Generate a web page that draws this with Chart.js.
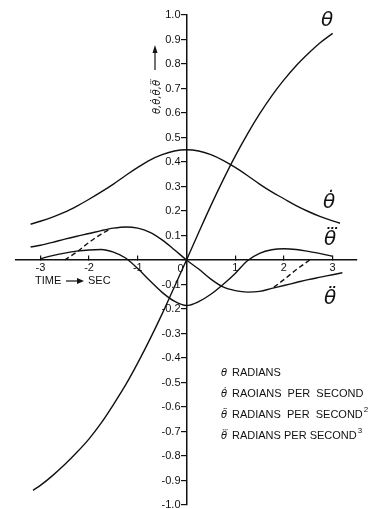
<!DOCTYPE html>
<html>
<head>
<meta charset="utf-8">
<script src="https://cdn.jsdelivr.net/npm/chart.js@4.4.0/dist/chart.umd.min.js"></script>
<style>
  html, body { margin: 0; padding: 0; background: #fff; }
  #wrap { width: 374px; height: 509px; }
</style>
</head>
<body>
<div id="wrap"><canvas id="motion"></canvas></div>
<script>
// angle and its derivatives against time (sec)
const thetaT = [-3.15,-3,-2.75,-2.5,-2.25,-2,-1.75,-1.5,-1.25,-1,-0.75,-0.5,-0.25,0,0.25,0.5,0.75,1,1.25,1.5,1.75,2,2.25,2.5,2.75,3];
const theta  = [-0.94,-0.92,-0.88,-0.835,-0.785,-0.73,-0.665,-0.59,-0.51,-0.42,-0.323,-0.22,-0.11,0,0.112,0.222,0.326,0.424,0.514,0.596,0.67,0.735,0.793,0.843,0.888,0.925];

const dotT     = [-3.2,-3,-2.75,-2.5,-2.25,-2,-1.75,-1.5,-1.25,-1,-0.75,-0.5,-0.25,0,0.25,0.5,0.75,1,1.25,1.5,1.75,2,2.25,2.5,2.75,3,3.15];
const thetaDot = [0.146,0.158,0.175,0.195,0.22,0.248,0.278,0.31,0.345,0.378,0.408,0.43,0.445,0.45,0.445,0.43,0.407,0.378,0.345,0.31,0.278,0.25,0.222,0.198,0.177,0.16,0.15];

const ddotT     = [-3.2,-3,-2.75,-2.5,-2.25,-2,-1.75,-1.5,-1.25,-1,-0.75,-0.5,-0.25,0,0.25,0.5,0.75,1,1.25,1.5,1.75,2,2.25,2.5,2.75,3,3.2];
const thetaDdot = [0.053,0.06,0.072,0.085,0.097,0.108,0.12,0.13,0.135,0.13,0.113,0.082,0.042,0,-0.037,-0.078,-0.11,-0.125,-0.131,-0.128,-0.116,-0.104,-0.092,-0.08,-0.07,-0.06,-0.052];

const tdotT     = [-3,-2.75,-2.5,-2.25,-2,-1.75,-1.5,-1.25,-1,-0.75,-0.5,-0.25,0,0.25,0.5,0.75,1,1.25,1.5,1.75,2,2.25,2.5,2.75,3];
const thetaTdot = [0.005,0.018,0.028,0.036,0.041,0.043,0.032,0.008,-0.035,-0.085,-0.132,-0.168,-0.186,-0.17,-0.14,-0.1,-0.055,-0.003,0.027,0.042,0.046,0.043,0.035,0.026,0.015];

// dashed branches
const dashLeftT  = [-2.5,-2.25,-2,-1.75,-1.55];
const dashLeft   = [0,0.033,0.072,0.106,0.128];
const dashRightT = [2.53,2.25,2,1.78];
const dashRight  = [0,-0.04,-0.08,-0.113];

const xTicks = [-3,-2,-1,0,1,2,3];
const yTicks = [-1,-0.9,-0.8,-0.7,-0.6,-0.5,-0.4,-0.3,-0.2,-0.1,0,0.1,0.2,0.3,0.4,0.5,0.6,0.7,0.8,0.9,1];

const legendRows = [
  ['\u03B8', 'RADIANS', ''],
  ['\u03B8\u0307', 'RAOIANS  PER  SECOND', ''],
  ['\u03B8\u0308', 'RADIANS  PER  SECOND', '2'],
  ['\u03B8\u20DB', 'RADIANS PER SECOND', '3']
];

const ink = '#111';
const face = '"Liberation Sans", Arial, sans-serif';
const greek = '"DejaVu Sans", sans-serif';

function pts(ts, vs) {
  return ts.map((t, i) => ({ x: t, y: vs[i] }));
}

function curve(ts, vs, dashed) {
  return {
    data: pts(ts, vs),
    showLine: true,
    borderColor: ink,
    borderWidth: 1.4,
    borderDash: dashed ? [5, 3] : [],
    pointRadius: 0,
    cubicInterpolationMode: 'monotone'
  };
}

const notes = {
  id: 'notes',
  afterDraw(chart) {
    const ctx = chart.ctx;
    const xs = chart.scales.x, ys = chart.scales.y;
    const ox = xs.getPixelForValue(0), oy = ys.getPixelForValue(0);
    ctx.save();
    ctx.fillStyle = ink;
    ctx.strokeStyle = ink;

    // value labels left of the vertical axis
    ctx.font = '11px ' + face;
    ctx.textAlign = 'right';
    ctx.textBaseline = 'middle';
    yTicks.forEach(v => {
      if (v === 0) return;
      ctx.fillText(v.toFixed(1), ox - 6, ys.getPixelForValue(v));
    });

    // zero shared by both axes
    ctx.fillText('0', ox - 3, oy + 9);

    // time axis caption
    ctx.textAlign = 'left';
    ctx.fillText('TIME', 35, 281);
    ctx.fillText('SEC', 88, 281);
    ctx.lineWidth = 1.2;
    ctx.beginPath();
    ctx.moveTo(66, 281); ctx.lineTo(79, 281); ctx.stroke();
    ctx.beginPath();
    ctx.moveTo(84, 281); ctx.lineTo(77, 278); ctx.lineTo(77, 284); ctx.closePath(); ctx.fill();

    // vertical caption and arrow
    ctx.save();
    ctx.translate(157, 97);
    ctx.rotate(-Math.PI / 2);
    ctx.textAlign = 'center';
    ctx.font = 'italic 10px ' + greek;
    ctx.fillText('\u03B8,\u03B8\u0307,\u03B8\u0308,\u03B8\u20DB', 0, 0);
    ctx.restore();
    ctx.beginPath();
    ctx.moveTo(155, 70); ctx.lineTo(155, 52); ctx.stroke();
    ctx.beginPath();
    ctx.moveTo(155, 45); ctx.lineTo(152.5, 53); ctx.lineTo(157.5, 53); ctx.closePath(); ctx.fill();

    // curve names
    ctx.font = 'italic 20px ' + greek;
    ctx.textAlign = 'center';
    ctx.fillText('\u03B8', 327, 21);
    ctx.fillText('\u03B8\u0307', 329, 203);
    ctx.fillText('\u03B8\u20DB', 330, 240);
    ctx.fillText('\u03B8\u0308', 330, 299);

    // key
    legendRows.forEach((row, i) => {
      const y = 373 + i * 21;
      ctx.textAlign = 'left';
      ctx.font = 'italic 10px ' + greek;
      ctx.fillText(row[0], 221, y);
      ctx.font = '11px ' + face;
      ctx.fillText(row[1], 232, y);
      if (row[2]) {
        const w = ctx.measureText(row[1]).width;
        ctx.font = '8px ' + face;
        ctx.fillText(row[2], 233 + w, y - 5);
      }
    });
    ctx.restore();
  }
};

new Chart(document.getElementById('motion'), {
  type: 'scatter',
  data: {
    datasets: [
      curve(thetaT, theta),
      curve(dotT, thetaDot),
      curve(ddotT, thetaDdot),
      curve(tdotT, thetaTdot),
      curve(dashLeftT, dashLeft, true),
      curve(dashRightT, dashRight, true)
    ]
  },
  options: {
    responsive: true,
    maintainAspectRatio: false,
    animation: false,
    layout: { padding: { top: 15, bottom: 4, left: 16, right: 17 } },
    plugins: { legend: { display: false }, tooltip: { enabled: false } },
    scales: {
      x: {
        type: 'linear',
        min: -3.5,
        max: 3.5,
        position: { y: 0 },
        afterBuildTicks: s => { s.ticks = xTicks.map(v => ({ value: v })); },
        grid: { drawOnChartArea: false, tickLength: -5, color: ink, lineWidth: 1.2 },
        border: { color: ink, width: 1.5 },
        ticks: {
          color: ink,
          padding: 6,
          maxRotation: 0,
          autoSkip: false,
          font: { family: face, size: 11 },
          callback: v => (v === 0 ? '' : String(v))
        }
      },
      y: {
        type: 'linear',
        min: -1,
        max: 1,
        position: { x: 0 },
        afterBuildTicks: s => { s.ticks = yTicks.map(v => ({ value: v })); },
        grid: { drawOnChartArea: false, tickLength: 5, color: ink, lineWidth: 1.2 },
        border: { color: ink, width: 1.5 },
        ticks: { display: false }
      }
    }
  },
  plugins: [notes]
});
</script>
</body>
</html>
